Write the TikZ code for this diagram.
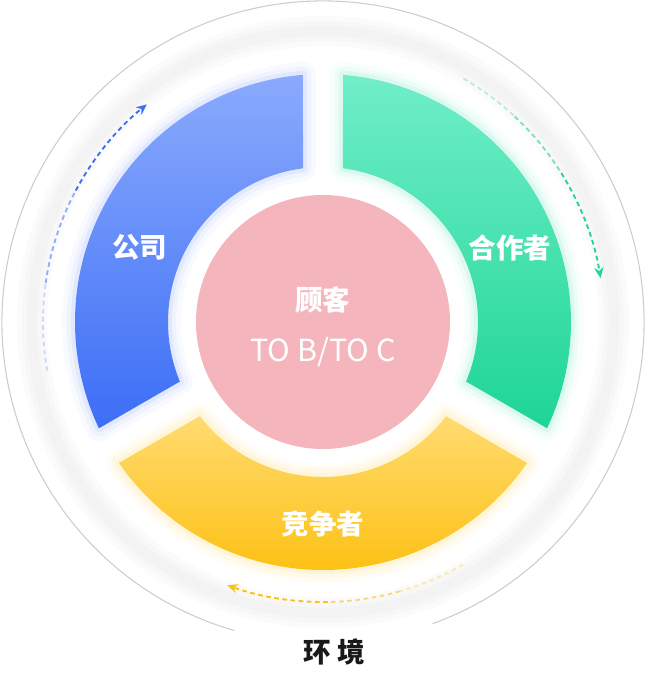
\documentclass[tikz,border=0pt]{standalone}
\usepackage{fontspec}
\setmainfont{Noto Sans CJK SC}
\usetikzlibrary{arrows.meta}

\definecolor{bluetop}{RGB}{138,170,252}
\definecolor{bluebot}{RGB}{60,110,246}
\definecolor{greentop}{RGB}{112,238,200}
\definecolor{greenbot}{RGB}{30,213,150}
\definecolor{yellowtop}{RGB}{255,219,112}
\definecolor{yellowbot}{RGB}{253,192,18}
\definecolor{clientpink}{RGB}{244,181,189}

% one third of the ring, between two gaps
\newcommand{\ringpart}[2]{(#1+4.63:248) arc [start angle=#1+4.63, end angle=#2-4.63, radius=248]
    -- (#2-7.41:155) arc [start angle=#2-7.41, end angle=#1+7.41, radius=155] -- cycle}

\begin{document}
\begin{tikzpicture}[x=0.03cm, y=0.03cm,
    glow/.style={line width=#1, line join=round},
    seglabel/.style={white, font=\bfseries\fontsize{23.5}{26}\selectfont},
    flow/.style={dash pattern=on 4pt off 3pt, line width=1.6pt}]
    \useasboundingbox (-323, -368) rectangle (325, 322);

    % Draw environment
    \draw [black, opacity=0.015, line width=26pt] (0, 0) circle [radius=291];
    \draw [black, opacity=0.015, line width=17pt] (0, 0) circle [radius=291];
    \draw [black, opacity=0.015, line width=9pt] (0, 0) circle [radius=291];
    \draw [black!20, line width=0.9pt] (-70:321) arc [start angle=-70, end angle=254, radius=321];

    % Draw glow of the ring
    \draw [glow=22pt, bluebot, opacity=0.03] \ringpart{90}{210};
    \draw [glow=14pt, bluebot, opacity=0.05] \ringpart{90}{210};
    \draw [glow=7pt, bluebot, opacity=0.07] \ringpart{90}{210};
    \draw [glow=22pt, greenbot, opacity=0.03] \ringpart{-30}{90};
    \draw [glow=14pt, greenbot, opacity=0.05] \ringpart{-30}{90};
    \draw [glow=7pt, greenbot, opacity=0.07] \ringpart{-30}{90};
    \draw [glow=22pt, yellowbot, opacity=0.04] \ringpart{210}{330};
    \draw [glow=14pt, yellowbot, opacity=0.06] \ringpart{210}{330};
    \draw [glow=7pt, yellowbot, opacity=0.08] \ringpart{210}{330};

    % Draw ring
    \shade [top color=bluetop, bottom color=bluebot] \ringpart{90}{210};
    \shade [top color=greentop, bottom color=greenbot] \ringpart{-30}{90};
    \shade [top color=yellowtop, bottom color=yellowbot] \ringpart{210}{330};
    \fill [clientpink] (0, 0) circle [radius=127];

    % Draw flows
    \coordinate (bluestart) at (190:280);
    \coordinate (greenstart) at (60:281);
    \coordinate (yellowstart) at (300:280);
    \draw [flow, bluebot, opacity=0.25] (bluestart) arc [start angle=190, end angle=172, radius=280];
    \draw [flow, bluebot, opacity=0.55] (172:280) arc [start angle=172, end angle=152, radius=280];
    \draw [flow, bluebot, -{Stealth[length=9pt, width=8pt]}] (152:280) arc [start angle=152, end angle=129, radius=280];
    \draw [flow, greenbot, opacity=0.3] (greenstart) arc [start angle=60, end angle=47, radius=281];
    \draw [flow, greenbot, opacity=0.6] (47:281) arc [start angle=47, end angle=32, radius=281];
    \draw [flow, greenbot, -{Stealth[length=9pt, width=8pt]}] (32:281) arc [start angle=32, end angle=9, radius=281];
    \draw [flow, yellowbot, opacity=0.3] (yellowstart) arc [start angle=300, end angle=286, radius=280];
    \draw [flow, yellowbot, opacity=0.6] (286:280) arc [start angle=286, end angle=271, radius=280];
    \draw [flow, yellowbot, -{Stealth[length=9pt, width=8pt]}] (271:280) arc [start angle=271, end angle=250, radius=280];

    \node [seglabel] (company) at (-183, 75) {公司};
    \node [seglabel] (partner) at (187, 74) {合作者};
    \node [seglabel] (rival) at (0, -202) {竞争者};
    \node [seglabel] (client) at (0, 22) {顾客};
    \node [white, font=\fontsize{26}{28}\selectfont] (clienttype) at (0, -30) {TO B/TO C};
    \node [black!90, font=\bfseries\fontsize{23.5}{26}\selectfont] (env) at (11, -330) {环 境};

\end{tikzpicture}
\end{document}
